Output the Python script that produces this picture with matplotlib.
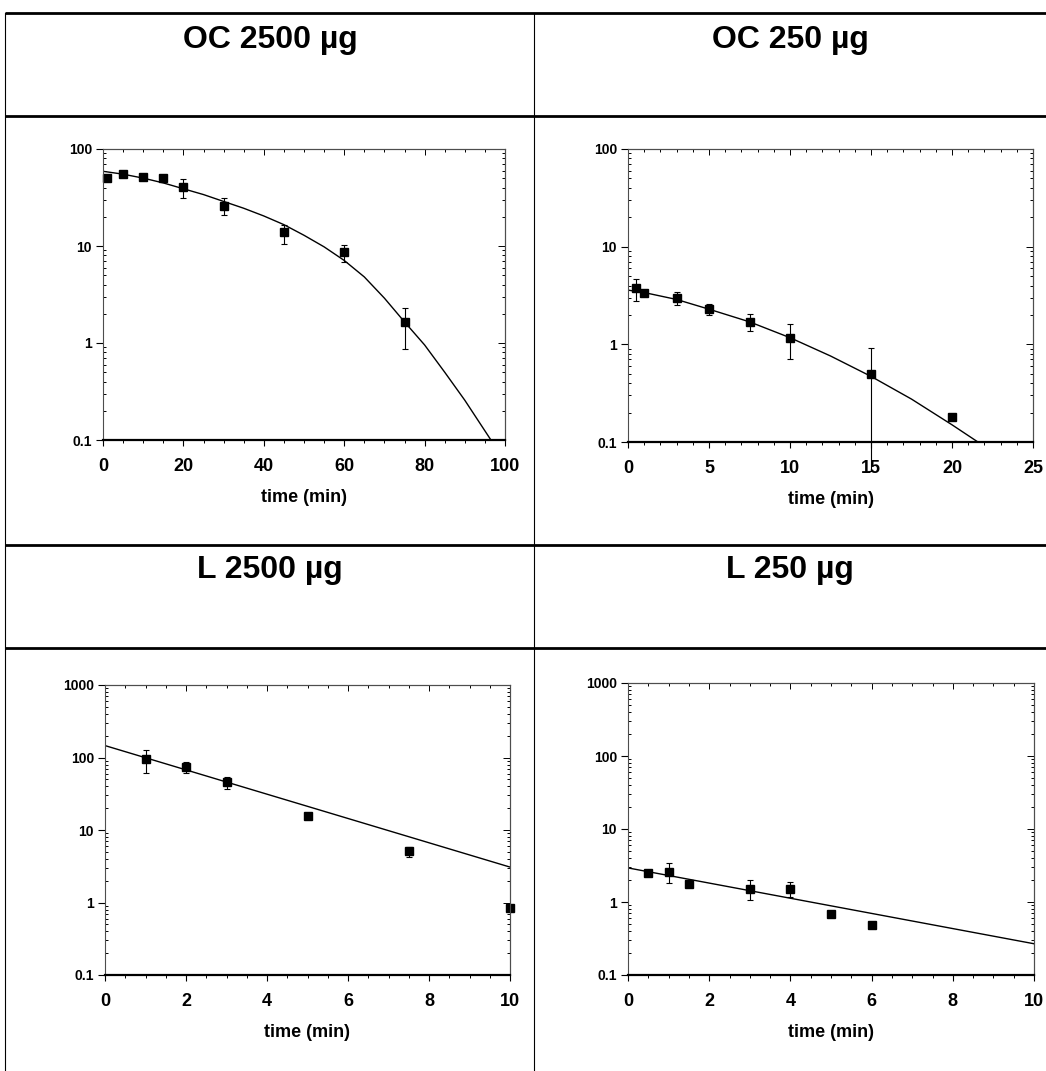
import matplotlib
matplotlib.use("Agg")
import matplotlib.pyplot as plt
from matplotlib.ticker import MultipleLocator, FixedLocator, NullFormatter, LogLocator
import numpy as np

plt.rcParams['font.family'] = ['Liberation Sans', 'DejaVu Sans']
plt.rcParams['font.weight'] = 'bold'

# panel titles
titles = ["OC 2500 \u00b5g", "OC 250 \u00b5g", "L 2500 \u00b5g", "L 250 \u00b5g"]

# OC 2500 ug
t_oc2500 = [1, 5, 10, 15, 20, 30, 45, 60, 75]
y_oc2500 = [50, 55, 51, 50, 40.5, 26, 13.8, 8.6, 1.63]
lo_oc2500 = [48, 53, 49, 48, 31, 21, 10.5, 6.8, 0.87]
hi_oc2500 = [52, 57, 53, 52, 49, 31, 16.5, 10.3, 2.3]
fit_t_oc2500 = [0, 5, 10, 15, 20, 25, 30, 35, 40, 45, 50, 55, 60, 65, 70, 75, 80, 85, 90, 96.5]
fit_y_oc2500 = [58.9, 55.0, 50.1, 44.7, 38.9, 33.9, 28.8, 24.5, 20.4, 16.6, 12.9,
                9.8, 7.1, 4.8, 2.9, 1.65, 0.955, 0.50, 0.257, 0.1]

# OC 250 ug
t_oc250 = [0.5, 1, 3, 5, 7.5, 10, 15, 20]
y_oc250 = [3.78, 3.36, 3.0, 2.32, 1.69, 1.16, 0.50, 0.18]
lo_oc250 = [2.75, 3.15, 2.5, 2.0, 1.38, 0.70, 0.05, 0.17]
hi_oc250 = [4.7, 3.55, 3.4, 2.6, 2.05, 1.61, 0.92, 0.19]
fit_t_oc250 = [0, 1, 3, 5, 7.5, 10, 12.5, 15, 17.5, 20, 21.6]
fit_y_oc250 = [3.59, 3.39, 2.88, 2.29, 1.70, 1.17, 0.76, 0.47, 0.275, 0.15, 0.1]

# L 2500 ug
t_l2500 = [1, 2, 3, 5, 7.5, 10]
y_l2500 = [94.6, 75, 46.6, 15.8, 5.06, 0.83]
lo_l2500 = [60.7, 62, 37.3, 15.8, 4.18, 0.83]
hi_l2500 = [127, 88, 54.6, 15.8, 5.9, 0.83]
fit_t_l2500 = [0, 10]
fit_y_l2500 = [146, 3.08]

# L 250 ug
t_l250 = [0.5, 1, 1.5, 3, 4, 5, 6]
y_l250 = [2.53, 2.58, 1.75, 1.53, 1.53, 0.69, 0.49]
lo_l250 = [2.4, 1.81, 1.62, 1.05, 1.16, 0.69, 0.49]
hi_l250 = [2.65, 3.4, 1.9, 2.01, 1.9, 0.69, 0.49]
fit_t_l250 = [0, 10]
fit_y_l250 = [2.93, 0.268]

# axis setups
xmax = [100, 25, 10, 10]
xmajor = [20, 5, 2, 2]
xminor = [5, 1, 0.5, 0.5]
ymax = [100, 100, 1000, 1000]

W, H = 1046, 1071
fig = plt.figure(figsize=(W / 100, H / 100), dpi=100)

# table grid behind the plots
bg = fig.add_axes([0, 0, 1, 1])
bg.set_xlim(0, W)
bg.set_ylim(H, 0)
bg.axis("off")
for yy in [13, 116, 545, 648]:
    bg.plot([5, W], [yy, yy], color="black", lw=2.0, solid_capstyle="butt")
for xx in [5, 534]:
    bg.plot([xx, xx], [13, H], color="black", lw=0.8)

title_pos = [(270, 48), (790, 48), (270, 578), (790, 578)]
for (tx, ty), tt in zip(title_pos, titles):
    bg.text(tx, ty, tt, ha="center", va="baseline", fontsize=23, fontweight="bold")

# axes boxes in pixels: x0, y0, x1, y1
boxes = [(103, 149, 505, 440), (628, 149, 1033, 442),
         (105, 685, 510, 975), (628, 683, 1034, 975)]

data = [
    (t_oc2500, y_oc2500, lo_oc2500, hi_oc2500, fit_t_oc2500, fit_y_oc2500),
    (t_oc250, y_oc250, lo_oc250, hi_oc250, fit_t_oc250, fit_y_oc250),
    (t_l2500, y_l2500, lo_l2500, hi_l2500, fit_t_l2500, fit_y_l2500),
    (t_l250, y_l250, lo_l250, hi_l250, fit_t_l250, fit_y_l250),
]

for i, (t, y, lo, hi, ft, fy) in enumerate(data):
    x0, y0, x1, y1 = boxes[i]
    ax = fig.add_axes([x0 / W, 1 - y1 / H, (x1 - x0) / W, (y1 - y0) / H])
    ax.set_yscale("log")
    ax.set_xlim(0, xmax[i])
    ax.set_ylim(0.1, ymax[i])

    y = np.array(y)
    yerr = [y - np.array(lo), np.array(hi) - y]
    ax.plot(ft, fy, color="black", lw=1.0)
    ax.errorbar(t, y, yerr=yerr, fmt="s", color="black", ms=6,
                elinewidth=0.8, capsize=2.5, capthick=0.8, clip_on=False)

    # ticks
    ax.xaxis.set_major_locator(MultipleLocator(xmajor[i]))
    ax.xaxis.set_minor_locator(MultipleLocator(xminor[i]))
    yt = [10.0 ** k for k in range(-1, int(np.log10(ymax[i])) + 1)]
    ax.set_yticks(yt)
    ax.set_yticklabels(["0.1" if v < 1 else str(int(v)) for v in yt])
    ax.yaxis.set_minor_locator(LogLocator(base=10, subs=np.arange(2, 10)))
    ax.yaxis.set_minor_formatter(NullFormatter())
    ax.tick_params(axis="x", which="major", direction="out", length=4, width=0.8,
                   pad=9, labelsize=13)
    ax.tick_params(axis="x", which="minor", direction="out", length=2.5, width=0.7)
    ax.tick_params(axis="y", which="major", direction="out", length=5, width=0.8,
                   pad=3, labelsize=10)
    ax.tick_params(axis="y", which="minor", direction="in", length=2.5, width=0.7)
    for lab in ax.get_xticklabels() + ax.get_yticklabels():
        lab.set_fontweight("bold")

    # inward ticks on top and right
    top = ax.secondary_xaxis("top")
    top.xaxis.set_major_locator(MultipleLocator(xmajor[i]))
    top.xaxis.set_minor_locator(MultipleLocator(xminor[i]))
    top.tick_params(which="both", direction="in", labeltop=False, width=0.7)
    top.tick_params(which="major", length=4)
    top.tick_params(which="minor", length=2.5)
    right = ax.secondary_yaxis("right")
    right.yaxis.set_major_locator(FixedLocator(yt))
    right.yaxis.set_minor_locator(LogLocator(base=10, subs=np.arange(2, 10)))
    right.tick_params(which="both", direction="in", labelright=False, width=0.7)
    right.tick_params(which="major", length=5)
    right.tick_params(which="minor", length=2.5)
    for s in [top.spines["top"], right.spines["right"]]:
        s.set_linewidth(0.8)
        s.set_color("0.3")

    for side in ["left", "top", "right"]:
        ax.spines[side].set_linewidth(0.8)
        ax.spines[side].set_color("0.3")
    ax.spines["bottom"].set_linewidth(1.6)

    ax.set_xlabel("time (min)", fontsize=13, fontweight="bold", labelpad=10)

fig.savefig("out.png", dpi=100)
